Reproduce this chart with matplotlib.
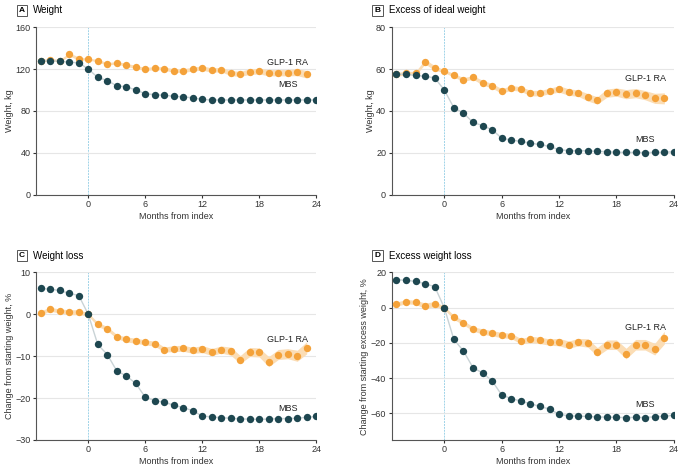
import numpy as np
import matplotlib
matplotlib.use("Agg")
import matplotlib.pyplot as plt

plt.rcParams["font.family"] = ["Liberation Sans", "DejaVu Sans"]

MBS_X = list(range(-5, 25))
GLP_X = list(range(-5, 24))

# panel A: weight, kg
A_MBS = [128, 128, 127.5, 126.5, 126, 120, 112, 109, 104, 103, 100, 96.5, 95.5, 95, 94,
         93.5, 92.5, 91, 90.5, 90.5, 90.5, 90.5, 90.5, 90.5, 90.5, 90.5, 90.5, 90.5, 90.5, 90.5]
A_GLP = [128, 129, 128, 134, 130, 129.5, 128, 125, 126, 124, 122, 120, 121, 120.5, 118.5,
         118.5, 120, 121, 119, 119.5, 116, 115.5, 117.5, 118, 116.5, 116.5, 116.5, 117, 115]
# panel B: excess of ideal weight, kg
B_MBS = [57.5, 57.5, 57, 56.5, 55.8, 50, 41.5, 39, 34.5, 33, 31, 27, 26, 25.5, 24.5,
         24, 23, 21.5, 21, 21, 21, 20.7, 20.5, 20.3, 20.2, 20.2, 20.1, 20.2, 20.3, 20.5]
B_GLP = [57.5, 58, 58, 63.5, 60.5, 59, 57, 55, 56, 53.5, 52, 49.5, 51, 50.5, 48.5,
         48.5, 49.5, 50.5, 49, 48.5, 46.5, 45, 48.5, 49, 48, 48.5, 47.5, 46, 46]
# panel C: weight loss, %
C_MBS = [6.2, 6, 5.7, 5, 4.5, 0, -7.2, -9.6, -13.5, -14.7, -16.5, -19.8, -20.6, -21, -21.7,
         -22.3, -23, -24.3, -24.5, -24.7, -24.8, -25, -25, -25.1, -25, -24.9, -24.9, -24.8, -24.6, -24.4]
C_GLP = [0.4, 1.2, 0.8, 0.5, 0.5, 0, -2.4, -3.4, -5.3, -6, -6.3, -6.7, -7, -8.4, -8.2,
         -8.1, -8.6, -8.3, -9, -8.4, -8.8, -10.8, -9, -9.1, -11.3, -9.6, -9.4, -9.9, -8]
# panel D: excess weight loss, %
D_MBS = [16, 15.5, 15, 13.5, 12, 0, -18, -24.5, -34, -37, -41.5, -49.5, -51.5, -53, -54.5,
         -56, -57.5, -60.5, -61.3, -61.5, -61.7, -62, -62, -62.2, -62.3, -62.2, -62.3, -61.8, -61.6, -61]
D_GLP = [2, 3.5, 3, 1.2, 2, 0, -5.5, -8.5, -12, -13.5, -14.5, -15.5, -16, -19, -18,
         -18.5, -19.5, -19.5, -21, -19.5, -20, -25, -21, -21, -26, -21, -21, -23.5, -17]

# approximate CI half-widths of GLP-1 RA band (relative, scaled per panel)
CI_REL = [0.4, 0.4, 0.4, 0.5, 0.5, 0.3, 0.4, 0.4, 0.4, 0.5, 0.5, 0.5, 0.5, 0.5, 0.6,
          0.6, 0.6, 0.7, 0.7, 0.7, 0.8, 0.8, 0.9, 0.9, 1.0, 1.0, 1.0, 1.1, 1.2]

ORANGE = "#F4A23A"
TEAL = "#1E4750"

panels = [
    ("A", "Weight", A_MBS, A_GLP, (0, 160), [0, 40, 80, 120, 160], "Weight, kg", 3.0,
     (21, 126), (21, 105)),
    ("B", "Excess of ideal weight", B_MBS, B_GLP, (0, 80), [0, 20, 40, 60, 80], "Weight, kg", 2.2,
     (21, 55.5), (21, 26.5)),
    ("C", "Weight loss", C_MBS, C_GLP, (-30, 10), [-30, -20, -10, 0, 10],
     "Change from starting weight, %", 1.2, (21, -6), (21, -22.5)),
    ("D", "Excess weight loss", D_MBS, D_GLP, (-75, 20), [-60, -40, -20, 0, 20],
     "Change from starting excess weight, %", 3.0, (21, -11), (21, -55)),
]
positions = [(0.053, 0.585, 0.412, 0.357), (0.576, 0.585, 0.415, 0.357),
             (0.053, 0.062, 0.412, 0.357), (0.576, 0.062, 0.415, 0.357)]

fig = plt.figure(figsize=(6.8, 4.69), dpi=100)
for (lab, title, mbs, glp, ylim, yticks, ylabel, ci, glp_pos, mbs_pos), pos in zip(panels, positions):
    ax = fig.add_axes(pos)
    lo = np.array(glp) - np.array(CI_REL) * ci
    hi = np.array(glp) + np.array(CI_REL) * ci
    ax.fill_between(GLP_X, lo, hi, color="#FBDDB5", lw=0, zorder=1)
    ax.plot(MBS_X, mbs, color="#C9D3D6", lw=1, zorder=2)
    ax.scatter(GLP_X, glp, s=28, color=ORANGE, zorder=3, lw=0)
    ax.scatter(MBS_X, mbs, s=28, color=TEAL, zorder=4, lw=0)
    ax.axvline(0, color="#9FD3E8", lw=0.7, ls=(0, (2, 1)), zorder=0)
    ax.set_xlim(-5.5, 24)
    ax.set_ylim(*ylim)
    ax.set_xticks([0, 6, 12, 18, 24])
    ax.set_yticks(yticks)
    ax.yaxis.grid(True, color="#E6E6E6", lw=0.8)
    ax.set_axisbelow(True)
    for s in ["top", "right"]:
        ax.spines[s].set_visible(False)
    for s in ["left", "bottom"]:
        ax.spines[s].set_color("#555555")
        ax.spines[s].set_linewidth(0.8)
    ax.tick_params(labelsize=6.5, length=2.5, width=0.8, pad=1.5, colors="#333333")
    ax.set_xlabel("Months from index", fontsize=6.5, color="#333333", labelpad=2)
    ax.set_ylabel(ylabel, fontsize=6.5, color="#333333", labelpad=1)
    ax.text(*glp_pos, "GLP-1 RA", fontsize=6.5, color="#222222", ha="center", va="center")
    ax.text(*mbs_pos, "MBS", fontsize=6.5, color="#222222", ha="center", va="center")
    ax.text(-0.05, 1.1, lab, transform=ax.transAxes, fontsize=6, fontweight="bold",
            ha="center", va="center",
            bbox=dict(boxstyle="square,pad=0.25", fc="white", ec="#555555", lw=0.7))
    ax.text(-0.01, 1.1, title, transform=ax.transAxes, fontsize=7, ha="left", va="center")

fig.savefig("out.png", dpi=100)
